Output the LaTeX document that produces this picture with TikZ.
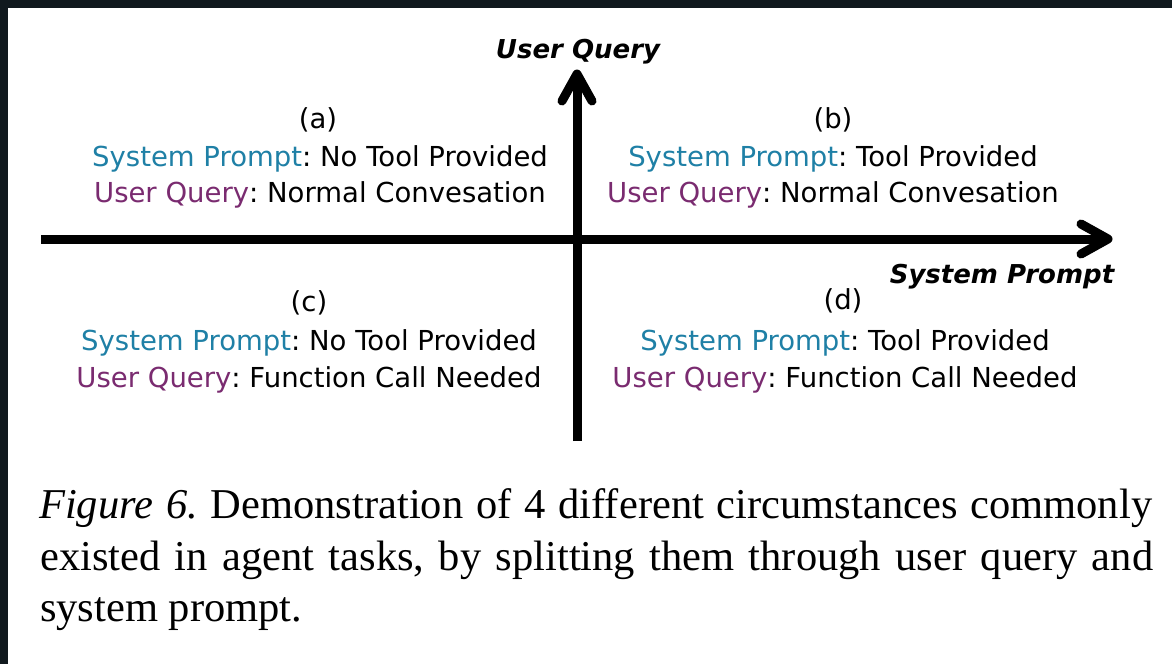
\documentclass[tikz,border=0pt]{standalone}
\usepackage{fontspec}
\setmainfont{Liberation Serif}
\newfontfamily\handfont{DejaVu Sans}
\usetikzlibrary{calc}
\definecolor{sysblue}{HTML}{1F80A6}
\definecolor{usrpurple}{HTML}{7A2B70}
\definecolor{framedark}{HTML}{10191E}
\newcommand{\SPx}{\textcolor{sysblue}{System Prompt}}
\newcommand{\UQx}{\textcolor{usrpurple}{User Query}}
\frenchspacing
\tikzset{
  axisline/.style={line width=9pt, black},
  axishead/.style={line width=9pt, black, line cap=round, line join=round},
  qtext/.style={anchor=base, inner sep=0pt, font=\handfont\fontsize{27.5}{32}\selectfont},
  axlabel/.style={anchor=base, inner sep=0pt, font=\handfont\bfseries\itshape\fontsize{26}{30}\selectfont},
  captext/.style={anchor=base west, inner sep=0pt, font=\fontsize{42.5}{52}\selectfont},
}
\begin{document}
\begin{tikzpicture}[x=1pt,y=-1pt]
\fill[white] (0,0) rectangle (1172,664);
\fill[framedark] (0,0) rectangle (1172,8);
\fill[framedark] (0,0) rectangle (8,664);
\useasboundingbox (0,0) rectangle (1172,664);

% axes
\coordinate (hs) at (41,239);
\coordinate (he) at (1108,239);
\coordinate (vs) at (577,441);
\coordinate (ve) at (577,74);
\draw[axisline] (hs) -- (he);
\draw[axishead] ($(he)+(-27,-15)$) -- (he) -- ($(he)+(-27,15)$);
\draw[axisline] (vs) -- (ve);
\draw[axishead] ($(ve)+(-15,27)$) -- (ve) -- ($(ve)+(15,27)$);

% axis labels
\node[axlabel] (uqlab) at (578,58) {User Query};
\node[axlabel] (splab) at (1002,283) {System Prompt};

% quadrant (a)
\node[qtext] (ta) at (318,128) {(a)};
\node[qtext] (a1) at (320,166) {\SPx: No Tool Provided};
\node[qtext] (a2) at (320,202) {\UQx: Normal Convesation};
% quadrant (b)
\node[qtext] (tb) at (833,128) {(b)};
\node[qtext] (b1) at (833,166) {\SPx: Tool Provided};
\node[qtext] (b2) at (833,202) {\UQx: Normal Convesation};
% quadrant (c)
\node[qtext] (tc) at (309,311) {(c)};
\node[qtext] (c1) at (309,350) {\SPx: No Tool Provided};
\node[qtext] (c2) at (309,387) {\UQx: Function Call Needed};
% quadrant (d)
\node[qtext] (td) at (843,309) {(d)};
\node[qtext] (d1) at (845,350) {\SPx: Tool Provided};
\node[qtext] (d2) at (845,387) {\UQx: Function Call Needed};

% caption
\node[captext] (cap1) at (39,518) {\makebox[1113pt][s]{\textit{Figure 6.} Demonstration of 4 different circumstances commonly}};
\node[captext] (cap2) at (40,570) {\makebox[1113pt][s]{existed in agent tasks, by splitting them through user query and}};
\node[captext] (cap3) at (40,621) {system prompt.};
\end{tikzpicture}
\end{document}
